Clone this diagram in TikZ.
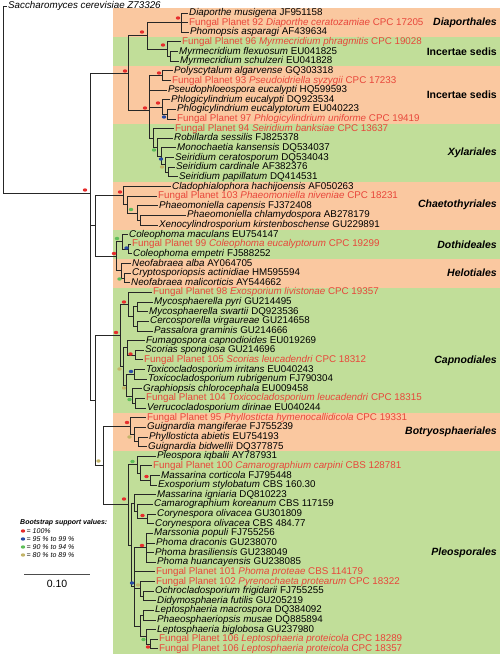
\documentclass[tikz,border=0pt]{standalone}
\usepackage{fontspec}
\setmainfont{Liberation Sans}
\usetikzlibrary{shapes.geometric}
\definecolor{bandorange}{RGB}{250,200,160}
\definecolor{bandgreen}{RGB}{193,222,153}
\definecolor{fpred}{RGB}{232,70,58}
\definecolor{bsred}{RGB}{230,45,45}
\definecolor{bsblue}{RGB}{40,75,165}
\definecolor{bsgreen}{RGB}{95,190,90}
\definecolor{bsolive}{RGB}{195,180,105}
\tikzset{
    branch/.style = {line width=0.9pt, draw=black!85},
    leaf/.style = {anchor=west, inner xsep=1.5pt, inner ysep=0pt, text height=7pt, text depth=2pt, font=\fontsize{9.8}{10}\selectfont},
    leaffp/.style = {leaf, text=fpred},
    order/.style = {anchor=east, inner sep=0pt, font=\fontsize{10.5}{12}\selectfont\bfseries\itshape},
    sedis/.style = {anchor=east, inner sep=0pt, font=\fontsize{10.5}{12}\selectfont\bfseries},
    bs/.style = {ellipse, inner sep=0pt, minimum width=4.4pt, minimum height=3.4pt},
    bsr/.style = {bs, fill=bsred},
    bsb/.style = {bs, fill=bsblue},
    bsg/.style = {bs, fill=bsgreen},
    bso/.style = {bs, fill=bsolive},
    legend/.style = {anchor=west, inner sep=0pt, font=\fontsize{7}{8}\selectfont\itshape}
}
\begin{document}
\begin{tikzpicture}[x=1pt, y=-1pt]
\useasboundingbox (0,0) rectangle (500,654);

% order bands
\fill[bandorange] (113,8.2)   rectangle (500,37.1);
\fill[bandgreen]  (113,37.1)  rectangle (500,66.0);
\fill[bandorange] (113,66.0)  rectangle (500,123.8);
\fill[bandgreen]  (113,123.8) rectangle (500,181.6);
\fill[bandorange] (113,181.6) rectangle (500,229.8);
\fill[bandgreen]  (113,229.8) rectangle (500,258.7);
\fill[bandorange] (113,258.7) rectangle (500,287.6);
\fill[bandgreen]  (113,287.6) rectangle (500,412.9);
\fill[bandorange] (113,412.9) rectangle (500,451.4);
\fill[bandgreen]  (113,451.4) rectangle (500,654);

\node[order] (o1) at (497,22.6) {Diaporthales};
\node[sedis] (o2) at (497,51.5) {Incertae sedis};
\node[sedis] (o3) at (497,95) {Incertae sedis};
\node[order] (o4) at (497,152.7) {Xylariales};
\node[order] (o5) at (497,204.5) {Chaetothyriales};
\node[order] (o6) at (497,244.3) {Dothideales};
\node[order] (o7) at (497,273.2) {Helotiales};
\node[order] (o8) at (497,360.5) {Capnodiales};
\node[order] (o9) at (497,432) {Botryosphaeriales};
\node[order] (o10) at (497,552.6) {Pleosporales};

% leaves
\node[leaf] (og) at (6.5,6) {\textit{Saccharomyces cerevisiae Z73326}};
\node[leaf]   (r1)  at (187.5,13.0)  {\textit{Diaporthe musigena} JF951158};
\node[leaffp] (r2)  at (187.5,22.6)  {Fungal Planet 92 \textit{Diaporthe ceratozamiae} CPC 17205};
\node[leaf]   (r3)  at (188.5,32.3)  {\textit{Phomopsis asparagi} AF439634};
\node[leaffp] (r4)  at (180.5,41.9)  {Fungal Planet 96 \textit{Myrmecridium phragmitis} CPC 19028};
\node[leaf]   (r5)  at (177.5,51.5)  {\textit{Myrmecridium flexuosum} EU041825};
\node[leaf]   (r6)  at (178.5,61.2)  {\textit{Myrmecridium schulzeri} EU041828};
\node[leaf]   (r7)  at (172.5,70.8)  {\textit{Polyscytalum algarvense} GQ303318};
\node[leaffp] (r8)  at (170.5,80.5)  {Fungal Planet 93 \textit{Pseudoidriella syzygii} CPC 17233};
\node[leaf]   (r9)  at (166.5,90.1)  {\textit{Pseudophloeospora eucalypti} HQ599593};
\node[leaf]   (r10) at (169.5,99.7)  {\textit{Phlogicylindrium eucalypti} DQ923534};
\node[leaf]   (r11) at (175.5,109.4) {\textit{Phlogicylindrium eucalyptorum} EU040223};
\node[leaffp] (r12) at (175.5,119.0) {Fungal Planet 97 \textit{Phlogicylindrium uniforme} CPC 19419};
\node[leaffp] (r13) at (173.5,128.6) {Fungal Planet 94 \textit{Seiridium banksiae} CPC 13637};
\node[leaf]   (r14) at (172.5,138.3) {\textit{Robillarda sessilis} FJ825378};
\node[leaf]   (r15) at (175.5,147.9) {\textit{Monochaetia kansensis} DQ534037};
\node[leaf]   (r16) at (173.5,157.5) {\textit{Seiridium ceratosporum} DQ534043};
\node[leaf]   (r17) at (174.5,167.2) {\textit{Seiridium cardinale} AF382376};
\node[leaf]   (r18) at (177.5,176.8) {\textit{Seiridium papillatum} DQ414531};
\node[leaf]   (r19) at (170.5,186.5) {\textit{Cladophialophora hachijoensis} AF050263};
\node[leaffp] (r20) at (156.5,196.1) {Fungal Planet 103 \textit{Phaeomoniella niveniae} CPC 18231};
\node[leaf]   (r21) at (157.5,205.7) {\textit{Phaeomoniella capensis} FJ372408};
\node[leaf]   (r22) at (185.5,215.4) {\textit{Phaeomoniella chlamydospora} AB278179};
\node[leaf]   (r23) at (157.5,225.0) {\textit{Xenocylindrosporium kirstenboschense} GU229891};
\node[leaf]   (r24) at (127.5,234.6) {\textit{Coleophoma maculans} EU754147};
\node[leaffp] (r25) at (130.5,244.3) {Fungal Planet 99 \textit{Coleophoma eucalyptorum} CPC 19299};
\node[leaf]   (r26) at (131.5,253.9) {\textit{Coleophoma empetri} FJ588252};
\node[leaf]   (r27) at (130.5,263.5) {\textit{Neofabraea alba} AY064705};
\node[leaf]   (r28) at (130.5,273.2) {\textit{Cryptosporiopsis actinidiae} HM595594};
\node[leaf]   (r29) at (129.5,282.8) {\textit{Neofabraea malicorticis} AY544662};
\node[leaffp] (r30) at (151.5,292.4) {Fungal Planet 98 \textit{Exosporium livistonae} CPC 19357};
\node[leaf]   (r31) at (152.5,302.1) {\textit{Mycosphaerella pyri} GU214495};
\node[leaf]   (r32) at (147.5,311.7) {\textit{Mycosphaerella swartii} DQ923536};
\node[leaf]   (r33) at (148.5,321.3) {\textit{Cercosporella virgaureae} GU214658};
\node[leaf]   (r34) at (152.5,331.0) {\textit{Passalora graminis} GU214666};
\node[leaf]   (r35) at (144.5,340.6) {\textit{Fumagospora capnodioides} EU019269};
\node[leaf]   (r36) at (143.5,350.3) {\textit{Scorias spongiosa} GU214696};
\node[leaffp] (r37) at (142.5,359.9) {Fungal Planet 105 \textit{Scorias leucadendri} CPC 18312};
\node[leaf]   (r38) at (144.5,369.5) {\textit{Toxicocladosporium irritans} EU040243};
\node[leaf]   (r39) at (146.5,379.2) {\textit{Toxicocladosporium rubrigenum} FJ790304};
\node[leaf]   (r40) at (141.5,388.8) {\textit{Graphiopsis chlorocephala} EU009458};
\node[leaffp] (r41) at (144.5,398.4) {Fungal Planet 104 \textit{Toxicocladosporium leucadendri} CPC 18315};
\node[leaf]   (r42) at (145.5,408.1) {\textit{Verrucocladosporium dirinae} EU040244};
\node[leaffp] (r43) at (145.5,417.7) {Fungal Planet 95 \textit{Phyllosticta hymenocallidicola} CPC 19331};
\node[leaf]   (r44) at (145.5,427.3) {\textit{Guignardia mangiferae} FJ755239};
\node[leaf]   (r45) at (147.5,437.0) {\textit{Phyllosticta abietis} EU754193};
\node[leaf]   (r46) at (146.5,446.6) {\textit{Guignardia bidwellii} DQ377875};
\node[leaf]   (r47) at (155.5,456.2) {\textit{Pleospora iqbalii} AY787931};
\node[leaffp] (r48) at (151.5,465.9) {Fungal Planet 100 \textit{Camarographium carpini} CBS 128781};
\node[leaf]   (r49) at (159.5,475.5) {\textit{Massarina corticola} FJ795448};
\node[leaf]   (r50) at (156.5,485.1) {\textit{Exosporium stylobatum} CBS 160.30};
\node[leaf]   (r51) at (155.5,494.8) {\textit{Massarina igniaria} DQ810223};
\node[leaf]   (r52) at (152.5,504.4) {\textit{Camarographium koreanum} CBS 117159};
\node[leaf]   (r53) at (155.5,514.0) {\textit{Corynespora olivacea} GU301809};
\node[leaf]   (r54) at (153.5,523.7) {\textit{Corynespora olivacea} CBS 484.77};
\node[leaf]   (r55) at (152.5,533.3) {\textit{Marssonia populi} FJ755256};
\node[leaf]   (r56) at (154.5,543.0) {\textit{Phoma draconis} GU238070};
\node[leaf]   (r57) at (153.5,552.6) {\textit{Phoma brasiliensis} GU238049};
\node[leaf]   (r58) at (155.5,562.2) {\textit{Phoma huancayensis} GU238085};
\node[leaffp] (r59) at (154.5,571.9) {Fungal Planet 101 \textit{Phoma proteae} CBS 114179};
\node[leaffp] (r60) at (154.5,581.5) {Fungal Planet 102 \textit{Pyrenochaeta protearum} CPC 18322};
\node[leaf]   (r61) at (153.5,591.1) {\textit{Ochrocladosporium frigidarii} FJ755255};
\node[leaf]   (r62) at (155.5,600.8) {\textit{Didymosphaeria futilis} GU205219};
\node[leaf]   (r63) at (153.5,610.4) {\textit{Leptosphaeria macrospora} DQ384092};
\node[leaf]   (r64) at (155.5,620.0) {\textit{Phaeosphaeriopsis musae} DQ885894};
\node[leaf]   (r65) at (155.5,629.7) {\textit{Leptosphaeria biglobosa} GU237980};
\node[leaffp] (r66) at (157.5,639.3) {Fungal Planet 106 \textit{Leptosphaeria proteicola} CPC 18289};
\node[leaffp] (r67) at (157.5,648.9) {Fungal Planet 106 \textit{Leptosphaeria proteicola} CPC 18357};

% inner nodes
\coordinate (root) at (3,193);
\coordinate (ing) at (90,193);
\coordinate (sord) at (128,73);
\coordinate (dimy) at (147,35.9);
\coordinate (diap) at (181,22.65);
\coordinate (myr) at (167,49.1);
\coordinate (myr2) at (170,56.35);
\coordinate (ins) at (149,110);
\coordinate (poly) at (162,75.65);
\coordinate (phl) at (162,107);
\coordinate (phl2) at (167,114.2);
\coordinate (xyl) at (153,138);
\coordinate (xyl2) at (157,147.3);
\coordinate (xyl3) at (161,156.3);
\coordinate (xyl4) at (165,164.75);
\coordinate (xyl5) at (168,172);
\coordinate (eur) at (95,225.9);
\coordinate (cha) at (123,195.5);
\coordinate (cha2) at (127,204.5);
\coordinate (cha3) at (137,213);
\coordinate (cha4) at (140,220.2);
\coordinate (leo) at (116,256.3);
\coordinate (dth) at (122,241.9);
\coordinate (dth2) at (128,249.1);
\coordinate (hel) at (121,270.8);
\coordinate (hel2) at (124,278);
\coordinate (dsc) at (95,400.5);
\coordinate (cap) at (120,335.5);
\coordinate (myc) at (128,304.5);
\coordinate (myc2) at (133,316.5);
\coordinate (myc3) at (137,306.9);
\coordinate (cer) at (137,326.2);
\coordinate (caplo) at (123,366.6);
\coordinate (fum) at (127,347.9);
\coordinate (sco) at (135,355.1);
\coordinate (caplo2) at (126,385.2);
\coordinate (tox) at (134,374.4);
\coordinate (gra) at (132,396);
\coordinate (ver) at (135,403.3);
\coordinate (bp) at (103,465.5);
\coordinate (bot) at (130,426.1);
\coordinate (bot2) at (134,434.6);
\coordinate (bot3) at (138,441.8);
\coordinate (ple) at (128,504.9);
\coordinate (pleA) at (137,464.7);
\coordinate (pleA2) at (140,473.1);
\coordinate (pleA3) at (150,480.3);
\coordinate (ple2) at (131,545);
\coordinate (pleB) at (134,503.2);
\coordinate (pleB2) at (137,511.6);
\coordinate (pleB3) at (147,518.9);
\coordinate (pleC) at (134,586.9);
\coordinate (pho) at (146,547.8);
\coordinate (och) at (140,588.8);
\coordinate (och2) at (143,596);
\coordinate (lep) at (140,626);
\coordinate (lep1) at (143,615.2);
\coordinate (lep2) at (146,636.9);
\coordinate (lep3) at (150,644.1);

% branches
\draw[branch] (root) |- (og.west) (root) |- (ing);
\draw[branch] (ing) |- (sord) (ing) |- (eur) (ing) |- (dsc);
\draw[branch] (sord) |- (dimy) (sord) |- (ins);
\draw[branch] (dimy) |- (diap) (dimy) |- (myr);
\draw[branch] (diap) |- (r1.west) (diap) |- (r2.west) (diap) |- (r3.west);
\draw[branch] (myr) |- (r4.west) (myr) |- (myr2);
\draw[branch] (myr2) |- (r5.west) (myr2) |- (r6.west);
\draw[branch] (ins) |- (poly) (ins) |- (r9.west) (ins) |- (phl) (ins) |- (xyl);
\draw[branch] (poly) |- (r7.west) (poly) |- (r8.west);
\draw[branch] (phl) |- (r10.west) (phl) |- (phl2);
\draw[branch] (phl2) |- (r11.west) (phl2) |- (r12.west);
\draw[branch] (xyl) |- (r13.west) (xyl) |- (xyl2);
\draw[branch] (xyl2) |- (r14.west) (xyl2) |- (xyl3);
\draw[branch] (xyl3) |- (r15.west) (xyl3) |- (xyl4);
\draw[branch] (xyl4) |- (r16.west) (xyl4) |- (xyl5);
\draw[branch] (xyl5) |- (r17.west) (xyl5) |- (r18.west);
\draw[branch] (eur) |- (cha) (eur) |- (leo);
\draw[branch] (cha) |- (r19.west) (cha) |- (cha2);
\draw[branch] (cha2) |- (r20.west) (cha2) |- (cha3);
\draw[branch] (cha3) |- (r21.west) (cha3) |- (cha4);
\draw[branch] (cha4) |- (r22.west) (cha4) |- (r23.west);
\draw[branch] (leo) |- (dth) (leo) |- (hel);
\draw[branch] (dth) |- (r24.west) (dth) |- (dth2);
\draw[branch] (dth2) |- (r25.west) (dth2) |- (r26.west);
\draw[branch] (hel) |- (r27.west) (hel) |- (hel2);
\draw[branch] (hel2) |- (r28.west) (hel2) |- (r29.west);
\draw[branch] (dsc) |- (cap) (dsc) |- (bp);
\draw[branch] (cap) |- (myc) (cap) |- (caplo);
\draw[branch] (myc) |- (r30.west) (myc) |- (myc2);
\draw[branch] (myc2) |- (myc3) (myc2) |- (cer);
\draw[branch] (myc3) |- (r31.west) (myc3) |- (r32.west);
\draw[branch] (cer) |- (r33.west) (cer) |- (r34.west);
\draw[branch] (caplo) |- (fum) (caplo) |- (caplo2);
\draw[branch] (fum) |- (r35.west) (fum) |- (sco);
\draw[branch] (sco) |- (r36.west) (sco) |- (r37.west);
\draw[branch] (caplo2) |- (tox) (caplo2) |- (gra);
\draw[branch] (tox) |- (r38.west) (tox) |- (r39.west);
\draw[branch] (gra) |- (r40.west) (gra) |- (ver);
\draw[branch] (ver) |- (r41.west) (ver) |- (r42.west);
\draw[branch] (bp) |- (bot) (bp) |- (ple);
\draw[branch] (bot) |- (r43.west) (bot) |- (bot2);
\draw[branch] (bot2) |- (r44.west) (bot2) |- (bot3);
\draw[branch] (bot3) |- (r45.west) (bot3) |- (r46.west);
\draw[branch] (ple) |- (pleA) (ple) |- (ple2);
\draw[branch] (pleA) |- (r47.west) (pleA) |- (pleA2);
\draw[branch] (pleA2) |- (r48.west) (pleA2) |- (pleA3);
\draw[branch] (pleA3) |- (r49.west) (pleA3) |- (r50.west);
\draw[branch] (ple2) |- (pleB) (ple2) |- (pleC);
\draw[branch] (pleB) |- (r51.west) (pleB) |- (pleB2);
\draw[branch] (pleB2) |- (r52.west) (pleB2) |- (pleB3);
\draw[branch] (pleB3) |- (r53.west) (pleB3) |- (r54.west);
\draw[branch] (pleC) |- (pho) (pleC) |- (r59.west) (pleC) |- (och) (pleC) |- (lep);
\draw[branch] (pho) |- (r55.west) (pho) |- (r56.west) (pho) |- (r57.west) (pho) |- (r58.west);
\draw[branch] (och) |- (r60.west) (och) |- (och2);
\draw[branch] (och2) |- (r61.west) (och2) |- (r62.west);
\draw[branch] (lep) |- (lep1) (lep) |- (lep2);
\draw[branch] (lep1) |- (r63.west) (lep1) |- (r64.west);
\draw[branch] (lep2) |- (r65.west) (lep2) |- (lep3);
\draw[branch] (lep3) |- (r66.west) (lep3) |- (r67.west);

% bootstrap support
\node[bsr] (s1) at (85,190) {};
\node[bsr] (s2) at (125,71) {};
\node[bsr] (s3) at (178,18) {};
\node[bsr] (s4) at (142,32) {};
\node[bsr] (s5) at (163,45) {};
\node[bsr] (s6) at (145,108) {};
\node[bsr] (s7) at (159,73) {};
\node[bsr] (s8) at (158,103) {};
\node[bsb] (s9) at (164,117) {};
\node[bsg] (s10) at (154,150) {};
\node[bsb] (s11) at (161,159) {};
\node[bso] (s12) at (162,167) {};
\node[bsr] (s13) at (120,192) {};
\node[bsg] (s14) at (131,209.5) {};
\node[bsr] (s15) at (114,253.5) {};
\node[bsg] (s16) at (117,238.5) {};
\node[bsb] (s17) at (126.5,248) {};
\node[bsg] (s18) at (119.5,279) {};
\node[bsr] (s19) at (116,332.5) {};
\node[bsr] (s20) at (124,302) {};
\node[bsr] (s21) at (130.5,354) {};
\node[bso] (s22) at (119.5,369) {};
\node[bsb] (s23) at (131,371.5) {};
\node[bso] (s24) at (124,388) {};
\node[bsg] (s25) at (129.5,399.5) {};
\node[bsr] (s26) at (127,422.5) {};
\node[bso] (s27) at (129.5,437) {};
\node[bso] (s28) at (98.5,461) {};
\node[bsr] (s29) at (124,499) {};
\node[bsg] (s30) at (132.5,461.5) {};
\node[bsr] (s31) at (146.5,476.5) {};
\node[bsr] (s32) at (142.5,515.5) {};
\node[bsr] (s33) at (142,545.5) {};
\node[bsb] (s34) at (132,583) {};
\node[bso] (s35) at (138,585) {};
\node[bsg] (s36) at (143.5,639.5) {};
\node[bsr] (s37) at (148,647) {};

% legend
\node[legend, font=\fontsize{7}{8}\selectfont\bfseries\itshape] (lgt) at (20,523) {Bootstrap support values:};
\node[bsr] (l1) at (23,531) {};
\node[bsb] (l2) at (23,539) {};
\node[bsg] (l3) at (23,547) {};
\node[bso] (l4) at (23,555) {};
\node[legend] (lt1) at (26.5,531) {= 100\%};
\node[legend] (lt2) at (26.5,539) {= 95 \% to 99 \%};
\node[legend] (lt3) at (26.5,547) {= 90 \% to 94 \%};
\node[legend] (lt4) at (26.5,555) {= 80 \% to 89 \%};

% scale bar
\coordinate (sb1) at (24,574);
\coordinate (sb2) at (90,574);
\draw[line width=0.9pt, black!70] (sb1) -- (sb2);
\node[font=\fontsize{10.5}{12}\selectfont] (sbl) at (57,583.5) {0.10};
\end{tikzpicture}
\end{document}
